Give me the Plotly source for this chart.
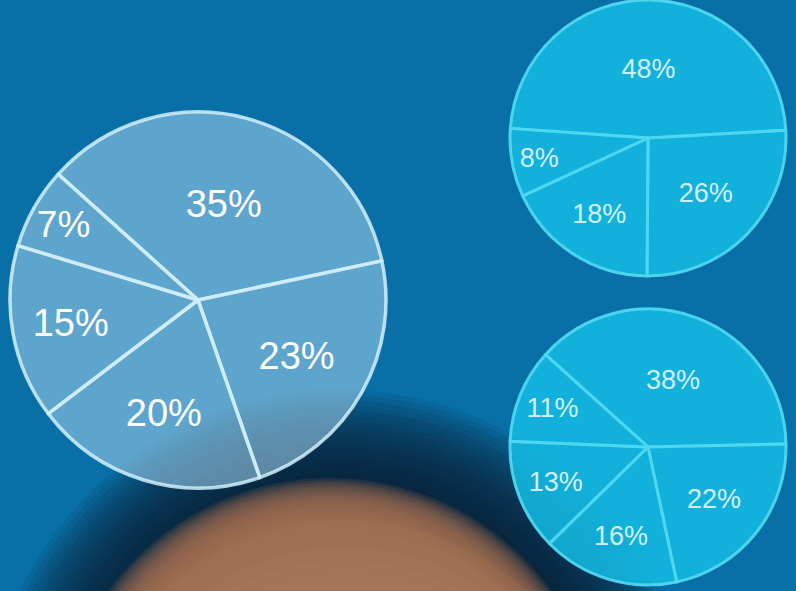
import plotly.graph_objects as go

W, H = 796, 591

# Data
big_labels = ["A", "B", "C", "D", "E"]
big_values = [35, 23, 20, 15, 7]
tr_labels = ["A", "B", "C", "D"]
tr_values = [48, 26, 18, 8]
br_labels = ["A", "B", "C", "D", "E"]
br_values = [38, 22, 16, 13, 11]


def dom(cx, cy, r):
    return dict(x=[(cx - r) / W, (cx + r) / W], y=[1 - (cy + r) / H, 1 - (cy - r) / H])


def soft_circle(cx, cy, r, blur, color, steps=14, op=0.2):
    shapes = []
    for i in range(steps):
        rr = r + blur - 2 * blur * i / (steps - 1)
        shapes.append(dict(type="circle", xref="paper", yref="paper",
                           x0=(cx - rr) / W, x1=(cx + rr) / W,
                           y0=1 - (cy + rr) / H, y1=1 - (cy - rr) / H,
                           fillcolor=color, opacity=op, line=dict(width=0), layer="below"))
    return shapes


shapes = []
shapes += soft_circle(340, 745, 295, 60, "#0b2233", steps=24, op=0.1)
shapes += soft_circle(330, 752, 250, 24, "#a47352", steps=20, op=0.17)
shapes += soft_circle(345, 790, 210, 60, "#b08262", steps=10, op=0.12)

fig = go.Figure()

fig.add_trace(go.Pie(
    labels=big_labels, values=big_values, sort=False, direction="clockwise",
    rotation=-48, domain=dom(198, 300, 188),
    marker=dict(colors=["rgba(150,200,228,0.6)"] * 5,
                line=dict(color="rgba(210,240,252,0.85)", width=3.5)),
    texttemplate="%{value}%", textinfo="text", textposition="inside",
    insidetextorientation="horizontal",
    textfont=dict(color="white", size=38, family="Liberation Sans"),
    hoverinfo="skip", showlegend=False,
))

fig.add_trace(go.Pie(
    labels=tr_labels, values=tr_values, sort=False, direction="clockwise",
    rotation=-86, domain=dom(648, 138, 138),
    marker=dict(colors=["rgba(20,188,228,0.85)"] * 4,
                line=dict(color="rgba(80,215,240,0.95)", width=3)),
    texttemplate="%{value}%", textinfo="text", textposition="inside",
    insidetextorientation="horizontal",
    textfont=dict(color="rgba(235,250,255,0.9)", size=27, family="Liberation Sans"),
    hoverinfo="skip", showlegend=False,
))

fig.add_trace(go.Pie(
    labels=br_labels, values=br_values, sort=False, direction="clockwise",
    rotation=-48, domain=dom(648, 447, 138),
    marker=dict(colors=["rgba(20,188,228,0.85)"] * 5,
                line=dict(color="rgba(80,215,240,0.95)", width=3)),
    texttemplate="%{value}%", textinfo="text", textposition="inside",
    insidetextorientation="horizontal",
    textfont=dict(color="rgba(235,250,255,0.9)", size=27, family="Liberation Sans"),
    hoverinfo="skip", showlegend=False,
))

fig.update_layout(
    width=W, height=H, margin=dict(l=0, r=0, t=0, b=0),
    paper_bgcolor="#0870a7", plot_bgcolor="#0870a7",
    shapes=shapes, showlegend=False,
)

fig.write_html("out.html", config={"displayModeBar": False},
               post_script="document.body.style.margin='0';")
